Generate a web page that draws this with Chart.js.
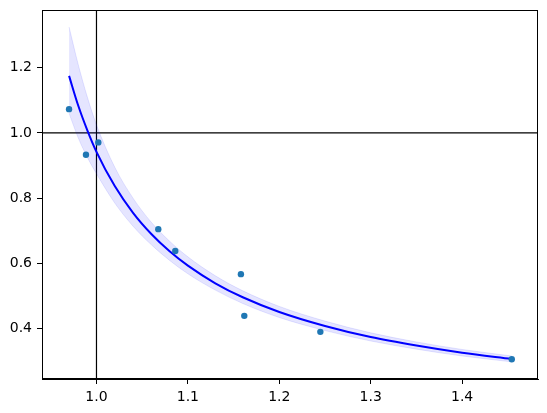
<!DOCTYPE html>
<html>
<head>
<meta charset="utf-8">
<script src="https://cdn.jsdelivr.net/npm/chart.js@4"></script>
<style>
  html, body { margin: 0; padding: 0; background: #ffffff; }
  #wrap { width: 547px; height: 413px; }
</style>
</head>
<body>
<div id="wrap"><canvas id="c" width="547" height="413"></canvas></div>
<script>
// Observed data points
const pointX = [0.970, 0.9885, 1.002, 1.0676, 1.0862, 1.158, 1.1617, 1.2449, 1.4543];
const pointY = [1.073, 0.933, 0.971, 0.705, 0.638, 0.567, 0.439, 0.390, 0.306];

// Fitted curve
const curveX = [0.970, 0.980, 0.990, 1.000, 1.020, 1.040, 1.060, 1.080, 1.100, 1.130, 1.160, 1.200, 1.250, 1.300, 1.350, 1.400, 1.4543];
const curveY = [1.175, 1.084, 1.008, 0.942, 0.837, 0.755, 0.690, 0.637, 0.593, 0.539, 0.496, 0.451, 0.408, 0.374, 0.348, 0.326, 0.307];

// Confidence band
const bandUpper = [1.325, 1.210, 1.110, 1.025, 0.895, 0.800, 0.726, 0.668, 0.620, 0.562, 0.516, 0.468, 0.423, 0.387, 0.359, 0.336, 0.316];
const bandLower = [1.060, 0.985, 0.925, 0.875, 0.785, 0.714, 0.657, 0.609, 0.568, 0.518, 0.477, 0.434, 0.394, 0.362, 0.337, 0.316, 0.298];

// Axes
const xMin = 0.9404, xMax = 1.483;
const yMin = 0.2454, yMax = 1.377;
const xTicks = [1.0, 1.1, 1.2, 1.3, 1.4];
const yTicks = [0.4, 0.6, 0.8, 1.0, 1.2];
const refX = 1.0, refY = 1.0;

const zip = (xs, ys) => xs.map((x, i) => ({ x: x, y: ys[i] }));

const framePlugin = {
  id: 'frame',
  afterDraw(chart) {
    const a = chart.chartArea, ctx = chart.ctx;
    ctx.save();
    ctx.strokeStyle = '#000';
    ctx.lineWidth = 1;
    ctx.strokeRect(Math.round(a.left) + 0.5, Math.round(a.top) + 0.5,
                   Math.round(a.right - a.left) - 1, Math.round(a.bottom - a.top) - 1);
    ctx.restore();
  }
};

const font = { family: 'DejaVu Sans', size: 14 };

new Chart(document.getElementById('c'), {
  type: 'scatter',
  data: {
    datasets: [
      {
        label: 'points',
        data: zip(pointX, pointY),
        backgroundColor: '#1f77b4',
        borderColor: '#1f77b4',
        pointRadius: 3.2,
        borderWidth: 0,
        order: 0
      },
      {
        label: 'fit',
        type: 'line',
        data: zip(curveX, curveY),
        borderColor: '#0000ff',
        borderWidth: 2,
        pointRadius: 0,
        cubicInterpolationMode: 'monotone',
        fill: false,
        order: 1
      },
      {
        label: 'upper',
        type: 'line',
        data: zip(curveX, bandUpper),
        borderColor: 'rgba(0,0,255,0.1)',
        borderWidth: 1,
        pointRadius: 0,
        cubicInterpolationMode: 'monotone',
        backgroundColor: 'rgba(0,0,255,0.1)',
        fill: '+1',
        order: 2
      },
      {
        label: 'lower',
        type: 'line',
        data: zip(curveX, bandLower),
        borderColor: 'rgba(0,0,255,0.1)',
        borderWidth: 1,
        pointRadius: 0,
        cubicInterpolationMode: 'monotone',
        fill: false,
        order: 3
      },
      {
        label: 'hline',
        type: 'line',
        data: [{ x: xMin, y: refY }, { x: xMax, y: refY }],
        borderColor: '#000',
        borderWidth: 1.2,
        pointRadius: 0,
        fill: false,
        order: 4
      },
      {
        label: 'vline',
        type: 'line',
        data: [{ x: refX, y: yMin }, { x: refX, y: yMax }],
        borderColor: '#000',
        borderWidth: 1.2,
        pointRadius: 0,
        fill: false,
        order: 4
      }
    ]
  },
  options: {
    responsive: false,
    animation: false,
    devicePixelRatio: 1,
    layout: { padding: { top: 10, right: 9, left: 0, bottom: 0 } },
    plugins: { legend: { display: false }, tooltip: { enabled: false } },
    scales: {
      x: {
        type: 'linear',
        min: xMin, max: xMax,
        afterBuildTicks: s => { s.ticks = xTicks.map(v => ({ value: v })); },
        afterFit: s => { s.height = 34; s.paddingLeft = 0; s.paddingRight = 0; },
        ticks: { font: font, color: '#000', padding: 5, maxRotation: 0,
                 callback: v => Number(v).toFixed(1) },
        grid: { display: true, drawOnChartArea: false, drawTicks: true, tickLength: 5, tickColor: '#000', tickWidth: 1 },
        border: { display: true, color: '#000', width: 1 }
      },
      y: {
        type: 'linear',
        min: yMin, max: yMax,
        afterBuildTicks: s => { s.ticks = yTicks.map(v => ({ value: v })); },
        afterFit: s => { s.width = 42; s.paddingTop = 0; s.paddingBottom = 0; },
        ticks: { font: font, color: '#000', padding: 5,
                 callback: v => Number(v).toFixed(1) },
        grid: { display: true, drawOnChartArea: false, drawTicks: true, tickLength: 5, tickColor: '#000', tickWidth: 1 },
        border: { display: true, color: '#000', width: 1 }
      }
    }
  },
  plugins: [framePlugin]
});
</script>
</body>
</html>
